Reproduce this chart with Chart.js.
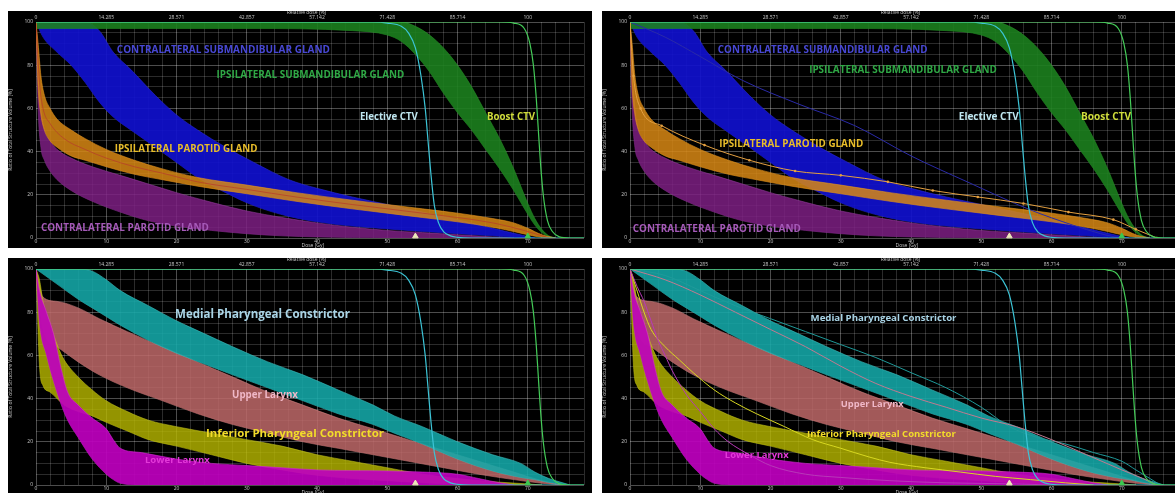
<!DOCTYPE html>
<html>
<head>
<meta charset="utf-8">
<script src="https://cdn.jsdelivr.net/npm/chart.js@4.4.1/dist/chart.umd.min.js"></script>
<style>
  html, body { margin: 0; padding: 0; background: #fff; width: 1175px; height: 493px; overflow: hidden; }
  .panel { position: absolute; background: #000; overflow: hidden; }
</style>
</head>
<body>
<div class="panel" style="left:8px;top:11px;width:584px;height:237px"><canvas id="c1"></canvas></div>
<div class="panel" style="left:602px;top:11px;width:584px;height:237px"><canvas id="c2"></canvas></div>
<div class="panel" style="left:8px;top:258px;width:584px;height:240px"><canvas id="c3"></canvas></div>
<div class="panel" style="left:602px;top:258px;width:584px;height:240px"><canvas id="c4"></canvas></div>
<script>
// axis labels
const relDoseLabels = ['0', '14.285', '28.571', '42.857', '57.142', '71.428', '85.714', '100'];
const markerDose = [54, 70];
const markerColors = ['#ecebb8', '#3cc850'];

// target volumes
const ctvEDose = [0, 48, 50, 52, 53, 54, 54.8, 55.4, 55.8, 56.2, 56.7, 57.3, 58, 59, 60, 62, 80];
const ctvEVol  = [100, 100, 99.5, 98, 95, 88, 75, 60, 45, 30, 15, 7, 3, 1, 0.3, 0, 0];
const ctvBDose = [0, 66, 68, 69.5, 70.3, 70.8, 71.2, 71.5, 71.8, 72.2, 72.8, 73.5, 74.5, 76, 80];
const ctvBVol  = [100, 100, 99.5, 97, 90, 80, 65, 50, 35, 20, 8, 3, 0.5, 0, 0];

// salivary glands (bands)
const csgDose  = [0, 1, 3, 5, 7, 9, 11, 13.5, 17, 20, 23, 27, 31, 36, 40, 45, 50, 55, 60, 65, 68, 71];
const csgUpper = [100, 100, 100, 100, 100, 96, 86, 78, 66, 57, 50, 42, 35, 27, 23, 19, 15.5, 12, 8.5, 4.5, 2.2, 0];
const csgLower = [100, 93, 86, 80, 72, 63, 56, 50, 42, 35, 28, 21, 15, 10, 7.5, 5.5, 4.2, 3, 2, 1, 0.3, 0];

const isgDose  = [0, 30, 45, 50, 52, 54, 56, 58, 60, 62, 64, 66, 68, 70, 71, 72, 73, 74];
const isgUpper = [100, 100, 100, 100, 100, 98, 94, 88, 80, 70, 58, 46, 32, 16, 9, 4, 1, 0];
const isgLower = [97, 97, 96, 94, 91, 85, 77, 67, 58, 50, 41, 32, 22, 11, 6, 2.5, 0.5, 0];

const ipgDose  = [0, 0.3, 0.7, 1.2, 2, 3, 5, 7, 10, 14, 18, 23, 30, 37, 45, 50, 55, 60, 65, 68, 70, 72, 74];
const ipgUpper = [100, 90, 75, 66, 60, 55, 50, 46, 41, 36, 32, 28, 24.5, 21, 17.5, 15.5, 13.5, 11.5, 9, 7, 4.5, 1.5, 0];
const ipgLower = [100, 70, 57, 50, 45, 42, 38, 36, 33, 29.5, 27, 24, 20.5, 17, 13.5, 11.5, 9.5, 7.5, 5, 3, 1.5, 0.3, 0];
const ipgMedDose = [0, 0.5, 1, 2, 4, 7, 10, 14, 18, 23, 30, 37, 45, 55, 65, 70, 73];
const ipgMedVol  = [100, 72, 60, 53, 46, 41, 37, 33, 30, 26, 22.5, 19, 15.5, 11.5, 7, 3, 0];

const cpgDose  = [0, 0.3, 0.7, 1.2, 2, 3, 5, 8, 12, 16, 20, 25, 30, 35, 40, 45, 50, 55, 60, 65, 68];
const cpgUpper = [100, 80, 60, 50, 45, 41, 37, 33, 29, 25, 21, 16.5, 12.5, 9.5, 7, 5, 3.5, 2.5, 1.5, 0.5, 0];
const cpgLower = [100, 60, 42, 36, 31, 27, 22, 17, 12, 8, 5.5, 3.5, 2, 1, 0.5, 0.2, 0, 0, 0, 0, 0];

// individual patient lines (top right)
const patCsgDose = [0, 5, 10, 16, 24, 32, 40, 48, 57, 63, 67, 69, 71];
const patCsgVol  = [100, 93, 84, 73, 62, 52, 38, 26, 13, 6, 2, 0.5, 0];
const patIpgDose = [0, 0.5, 1.5, 4.5, 10.6, 17, 23.5, 30, 36.7, 43.1, 49.5, 56, 62.4, 68.8, 72, 75];
const patIpgVol  = [100, 75, 60, 52, 43, 36, 31, 29, 26, 22, 19, 16, 12, 8.5, 4, 0];

// swallowing structures (bands)
const mpcDose  = [0, 3, 6, 8, 10, 12, 16, 20, 24, 28, 33, 38, 43, 48, 51, 55, 60, 65, 69, 71, 73, 75, 76];
const mpcUpper = [100, 100, 100, 99, 95, 90, 83, 76, 70, 64, 57, 51, 44, 37, 32, 27, 20, 14, 10, 6, 3, 1, 0];
const mpcLower = [100, 93, 86, 82, 78, 74, 67, 61, 56, 51, 45, 39, 33, 28, 24, 19, 12, 6.5, 3.5, 2.5, 1.2, 0.3, 0];

const ulDose  = [0, 1, 3, 6, 9, 13, 18, 23, 28, 33, 38, 43, 48, 53, 58, 63, 68, 72, 75];
const ulUpper = [100, 87, 85, 82, 77, 71, 64, 57, 50, 43, 37, 31, 26, 21, 16, 11, 6, 2, 0];
const ulLower = [100, 72, 64, 57, 51, 45, 39, 33, 28, 24, 20, 17, 14, 11, 8, 5, 2.5, 0.8, 0];

const ipcDose  = [0, 0.5, 1, 2, 3, 4, 6, 8, 10, 13, 16, 20, 25, 30, 35, 40, 45, 50, 55, 60, 65, 70, 72];
const ipcUpper = [100, 95, 85, 75, 65, 58, 50, 44, 39, 34, 30, 27, 24, 21, 18, 14, 11, 8, 5, 3, 1.5, 0.5, 0];
const ipcLower = [100, 55, 46, 43, 40, 37, 34, 32, 29, 25, 21, 18, 14, 10, 7, 4.5, 3, 2, 1, 0.3, 0, 0, 0];

const llDose  = [0, 0.5, 1.5, 2.5, 3.5, 4.5, 6, 8, 10, 11, 12, 15, 20, 25, 30, 35, 40, 50, 55, 60, 63, 66, 68];
const llUpper = [100, 90, 80, 70, 55, 43, 37, 31, 26, 21, 17, 15, 12, 10, 9, 8, 7, 6.5, 6, 5, 3, 1, 0];
const llLower = [100, 75, 60, 48, 38, 30, 22, 12, 5, 2.5, 0.8, 0, 0, 0, 0, 0, 0, 0, 0, 0, 0, 0, 0];

// individual patient lines (bottom right)
const patMpcDose = [0, 5, 10, 15, 20, 25, 30, 35, 40, 45, 50, 54, 58, 62, 66, 70, 72, 74, 75.5];
const patMpcVol  = [100, 97, 90, 83, 77, 71, 65, 59, 52, 45, 36, 27, 22, 19, 15, 11, 7, 3, 0];
const patUlDose  = [0, 5, 10, 15, 20, 25, 30, 35, 40, 45, 50, 55, 60, 65, 70, 73, 75];
const patUlVol   = [100, 95, 88, 80, 72, 64, 55, 47, 41, 36, 31, 27, 21, 14, 7, 3, 0];
const patIpcDose = [0, 1, 2, 3, 5, 7, 9, 12, 15, 18, 22, 26, 30, 34, 37, 42, 47, 52, 57, 62, 66];
const patIpcVol  = [100, 90, 80, 72, 64, 58, 52, 44, 38, 33, 27, 21, 17, 13, 10.5, 8, 6, 4, 2.5, 1, 0];
const patLlDose  = [0, 1, 2, 3, 4, 5, 6, 8, 10, 12, 14, 17, 20, 25, 30, 37, 45, 55, 60];
const patLlVol   = [100, 92, 85, 76, 67, 60, 53, 42, 34, 26, 20, 14, 9, 5, 3.5, 2, 1, 0.5, 0];

// text labels on the plots
const labelsTL = [
  {text: 'CONTRALATERAL SUBMANDIBULAR GLAND', dose: 11.5, vol: 87, w: 213, color: '#4848d4'},
  {text: 'IPSILATERAL SUBMANDIBULAR GLAND', dose: 25.7, vol: 75.5, w: 188, color: '#2fa845'},
  {text: 'Elective CTV', dose: 46.1, vol: 56, w: 58, color: '#bfe6ef'},
  {text: 'Boost CTV', dose: 64.2, vol: 56, w: 48, color: '#cfdc3c'},
  {text: 'IPSILATERAL PAROTID GLAND', dose: 11.2, vol: 41.2, w: 143, color: '#e8bd2a'},
  {text: 'CONTRALATERAL PAROTID GLAND', dose: 0.7, vol: 4.6, w: 168, color: '#a55ab8'}
];
const labelsTR = [
  {text: 'CONTRALATERAL SUBMANDIBULAR GLAND', dose: 12.5, vol: 87, w: 210, color: '#4848d4'},
  {text: 'IPSILATERAL SUBMANDIBULAR GLAND', dose: 25.5, vol: 77.8, w: 188, color: '#2fa845'},
  {text: 'Elective CTV', dose: 46.8, vol: 56, w: 60, color: '#bfe6ef'},
  {text: 'Boost CTV', dose: 64.2, vol: 56, w: 50, color: '#cfdc3c'},
  {text: 'IPSILATERAL PAROTID GLAND', dose: 12.7, vol: 43.5, w: 144, color: '#e8bd2a'},
  {text: 'CONTRALATERAL PAROTID GLAND', dose: 0.4, vol: 4.2, w: 168, color: '#a55ab8'}
];
const labelsBL = [
  {text: 'Medial Pharyngeal Constrictor', dose: 19.8, vol: 79, w: 175, color: '#a9d4e6'},
  {text: 'Upper Larynx', dose: 27.9, vol: 41.4, w: 66, color: '#f0b8c8'},
  {text: 'Inferior Pharyngeal Constrictor', dose: 24.2, vol: 23.7, w: 178, color: '#f2dc2a'},
  {text: 'Lower Larynx', dose: 15.5, vol: 11.6, w: 65, color: '#e238d8'}
];
const labelsBR = [
  {text: 'Medial Pharyngeal Constrictor', dose: 25.7, vol: 77, w: 146, color: '#a9d4e6'},
  {text: 'Upper Larynx', dose: 30, vol: 37.4, w: 63, color: '#f0b8c8'},
  {text: 'Inferior Pharyngeal Constrictor', dose: 25.2, vol: 23.6, w: 149, color: '#f2dc2a'},
  {text: 'Lower Larynx', dose: 13.5, vol: 13.9, w: 64, color: '#e238d8'}
];

function pts(xs, ys) {
  return xs.map((d, i) => ({x: d, y: ys[i]}));
}

function band(xs, lo, hi, fillColor, edgeColor) {
  return [
    {data: pts(xs, lo), borderColor: edgeColor, borderWidth: 0.6, pointRadius: 0, fill: false},
    {data: pts(xs, hi), borderColor: edgeColor, borderWidth: 0.6, pointRadius: 0, fill: '-1', backgroundColor: fillColor}
  ];
}

function line(xs, ys, color, width, dots) {
  return {data: pts(xs, ys), borderColor: color, borderWidth: width || 1.2, fill: false,
    pointRadius: dots ? 1.3 : 0, pointBackgroundColor: color, pointBorderWidth: 0};
}

function markers() {
  return {
    data: markerDose.map(d => ({x: d, y: 0.8})),
    showLine: false, pointStyle: 'triangle', pointRadius: 3.2,
    pointBackgroundColor: markerColors, pointBorderColor: markerColors, clip: false
  };
}

const labelPlugin = {
  id: 'plotText',
  afterDatasetsDraw(chart, args, opts) {
    const ctx = chart.ctx;
    const x = chart.scales.x, y = chart.scales.y, area = chart.chartArea;
    ctx.save();
    ctx.textBaseline = 'middle';
    ctx.textAlign = 'left';
    for (const l of opts.items) {
      ctx.font = 'bold 10px "Open Sans"';
      const size = 10 * l.w / ctx.measureText(l.text).width;
      ctx.font = 'bold ' + size.toFixed(2) + 'px "Open Sans"';
      ctx.fillStyle = l.color;
      ctx.fillText(l.text, x.getPixelForValue(l.dose), y.getPixelForValue(l.vol));
    }
    ctx.font = '5px "Open Sans"';
    ctx.fillStyle = '#c8c8c8';
    ctx.textAlign = 'center';
    ctx.fillText('Relative dose [%]', x.getPixelForValue(38.5), area.top - 9);
    ctx.fillText('Dose [Gy]', x.getPixelForValue(39.4), area.bottom + 7.5);
    ctx.restore();
  }
};

function makeChart(id, datasets, items, height) {
  // datasets listed bottom -> top
  datasets.forEach((d, i) => {
    d.order = datasets.length - i;
    d.cubicInterpolationMode = 'monotone';
  });
  const tickFont = {size: 5, family: 'Open Sans'};
  new Chart(document.getElementById(id), {
    type: 'line',
    data: {datasets},
    plugins: [labelPlugin],
    options: {
      responsive: true,
      maintainAspectRatio: false,
      animation: false,
      layout: {padding: {left: 0, right: 8, top: 0, bottom: 0}},
      plugins: {legend: {display: false}, tooltip: {enabled: false}, plotText: {items}},
      scales: {
        x: {
          type: 'linear', min: 0, max: 78,
          ticks: {stepSize: 2, autoSkip: false, maxRotation: 0, padding: 1, color: '#c8c8c8', font: tickFont,
            callback: v => (v % 10 === 0 && v <= 70 ? String(v) : '')},
          grid: {color: c => (c.tick && c.tick.value % 10 === 0 ? 'rgba(255,255,255,0.30)' : 'rgba(255,255,255,0.17)'), drawTicks: false},
          border: {display: false},
          afterFit: s => { s.height = height - 227; }
        },
        x2: {
          type: 'linear', position: 'top', min: 0, max: 78,
          ticks: {stepSize: 2, autoSkip: false, maxRotation: 0, padding: 1.5, color: '#c8c8c8', font: tickFont,
            callback: v => (v % 10 === 0 && v / 10 < relDoseLabels.length ? relDoseLabels[v / 10] : '')},
          grid: {display: false, drawTicks: false},
          border: {display: false},
          afterFit: s => { s.height = 11; }
        },
        y: {
          min: 0, max: 100,
          ticks: {stepSize: 5, autoSkip: false, padding: 3, color: '#c8c8c8', font: tickFont,
            callback: v => (v % 20 === 0 ? String(v) : '')},
          grid: {color: c => (c.tick && c.tick.value % 20 === 0 ? 'rgba(255,255,255,0.30)' : 'rgba(255,255,255,0.17)'), drawTicks: false},
          border: {display: false},
          title: {display: true, text: 'Ratio of Total Structure Volume [%]', color: '#c8c8c8', font: {size: 5, family: 'Open Sans'}, padding: 0},
          afterFit: s => { s.width = 28; }
        }
      }
    }
  });
}

function topBands() {
  return [
    ...band(cpgDose, cpgLower, cpgUpper, 'rgba(125,30,130,0.85)', 'rgba(150,60,160,0.9)'),
    ...band(csgDose, csgLower, csgUpper, 'rgba(16,16,205,0.92)', 'rgba(40,40,220,1)'),
    ...band(isgDose, isgLower, isgUpper, 'rgba(28,128,30,0.9)', 'rgba(40,150,40,1)'),
    ...band(ipgDose, ipgLower, ipgUpper, 'rgba(215,135,20,0.85)', 'rgba(230,150,30,1)')
  ];
}

function bottomBands() {
  return [
    ...band(ulDose, ulLower, ulUpper, 'rgba(190,105,105,0.85)', 'rgba(210,130,130,0.9)'),
    ...band(ipcDose, ipcLower, ipcUpper, 'rgba(185,185,0,0.8)', 'rgba(200,200,30,0.9)'),
    ...band(llDose, llLower, llUpper, 'rgba(190,0,190,0.92)', 'rgba(210,40,210,1)'),
    ...band(mpcDose, mpcLower, mpcUpper, 'rgba(20,168,168,0.88)', 'rgba(60,190,190,1)')
  ];
}

function ctvLines() {
  return [
    line(ctvEDose, ctvEVol, '#3cc4d6', 1.2),
    line(ctvBDose, ctvBVol, '#44cc58', 1.2),
    markers()
  ];
}

makeChart('c1', [...topBands(), line(ipgMedDose, ipgMedVol, '#b8402a', 0.8), ...ctvLines()], labelsTL, 237);
makeChart('c2', [...topBands(),
  line(patCsgDose, patCsgVol, '#2a2aa8', 1),
  line(patIpgDose, patIpgVol, '#e4a040', 1, true),
  ...ctvLines()], labelsTR, 237);
makeChart('c3', [...bottomBands(), ...ctvLines()], labelsBL, 240);
makeChart('c4', [...bottomBands(),
  line(patMpcDose, patMpcVol, '#1f9a9a', 1),
  line(patUlDose, patUlVol, '#c07a90', 1),
  line(patIpcDose, patIpcVol, '#d8d820', 1),
  line(patLlDose, patLlVol, '#b838b8', 1),
  ...ctvLines()], labelsBR, 240);
</script>
</body>
</html>
